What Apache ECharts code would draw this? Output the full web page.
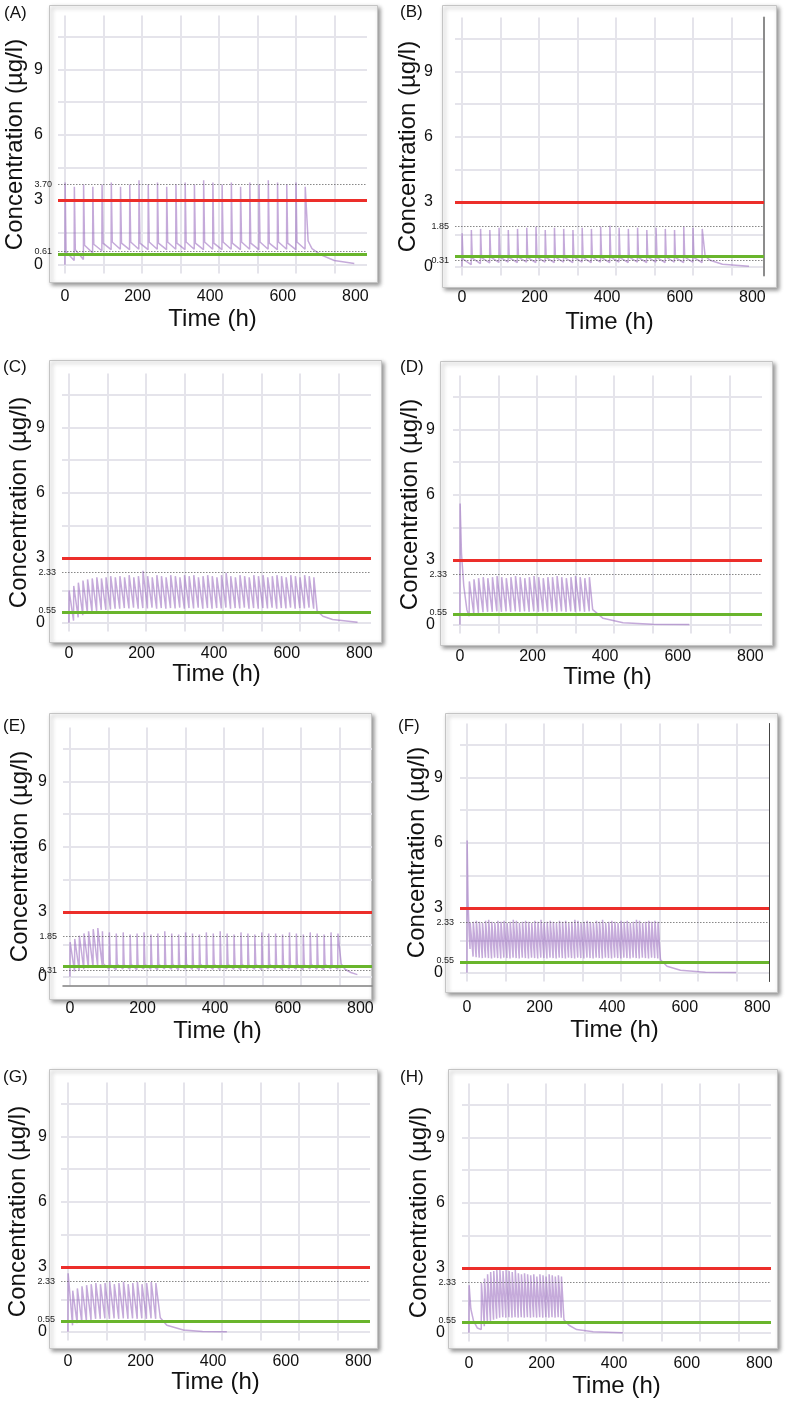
<!DOCTYPE html>
<html>
<head>
<meta charset="utf-8">
<title>Simulated concentration profiles (A)-(H)</title>
<script src="https://cdn.jsdelivr.net/npm/echarts@6/dist/echarts.min.js"></script>
<style>
  html, body { margin: 0; padding: 0; background: #fff; }
  #chart { width: 785px; height: 1404px; }
</style>
</head>
<body>
<div id="chart"></div>
<script>
// panel letters, left to right, top to bottom
var panels = ['(A)', '(B)', '(C)', '(D)', '(E)', '(F)', '(G)', '(H)'];

// axis ticks
var timeGrid = [0, 100, 200, 300, 400, 500, 600, 700];
var timeLabels = [0, 200, 400, 600, 800];
var concGrid = [0, 1.5, 3, 4.5, 6, 7.5, 9, 10.5];
var concLabels = [0, 3, 6, 9];

// reference lines (µg/l)
var toxicLevel = 3;
var minEffective = 0.5;
var upperMarks = [3.70, 1.85, 2.33, 2.33, 1.85, 2.33, 2.33, 2.33];
var lowerMarks = [0.61, 0.31, 0.55, 0.55, 0.31, 0.55, 0.55, 0.55];

// --- (A) 24 h dosing
var leadA = [[0, 0]];
var peaksA = [3.8, 3.6, 3.7, 3.6, 3.7, 3.8, 3.6, 3.7, 3.9, 3.7, 3.8, 3.6, 3.7, 3.8, 3.7, 3.9, 3.8, 3.7, 3.8, 3.6, 3.8, 3.7, 3.9, 3.8, 3.7, 3.8, 3.6];
var kneesA = [0.6, 0.7, 0.9, 0.95, 1.0, 1.05, 1.0, 1.05, 1.0, 1.05, 1.0, 1.05, 1.0, 1.05, 1.0, 1.05, 1.0, 1.05, 1.0, 1.05, 1.0, 1.05, 1.0, 1.05, 1.0, 1.05];
var troughsA = [0.2, 0.25, 0.55, 0.65, 0.7, 0.72, 0.7, 0.72, 0.7, 0.72, 0.7, 0.72, 0.7, 0.72, 0.7, 0.72, 0.7, 0.72, 0.7, 0.72, 0.7, 0.72, 0.7, 0.72, 0.7, 0.72];
var tailA = [[632, 1.1], [642, 0.75], [665, 0.46], [700, 0.2], [752, 0.06]];

// --- (B) 24 h dosing, lower dose
var leadB = [[0, 0]];
var peaksB = [1.55, 1.7, 1.75, 1.7, 1.8, 1.7, 1.75, 1.8, 1.85, 1.7, 1.8, 1.75, 1.7, 1.8, 1.75, 1.85, 1.9, 1.8, 1.75, 1.8, 1.7, 1.8, 1.75, 1.7, 1.85, 1.8, 1.75];
var kneesB = [0.35, 0.4, 0.42, 0.45, 0.45, 0.42, 0.45, 0.42, 0.45, 0.42, 0.45, 0.42, 0.45, 0.42, 0.45, 0.42, 0.45, 0.42, 0.45, 0.42, 0.45, 0.42, 0.45, 0.42, 0.45, 0.42];
var troughsB = [0.1, 0.15, 0.18, 0.2, 0.22, 0.2, 0.22, 0.2, 0.22, 0.2, 0.22, 0.2, 0.22, 0.2, 0.22, 0.2, 0.22, 0.2, 0.22, 0.2, 0.22, 0.2, 0.22, 0.2, 0.22, 0.2];
var tailB = [[632, 0.5], [645, 0.3], [677, 0.12], [746, 0.03]];

// --- (C) 12 h dosing
var leadC = [[0, 0]];
var peaksC = [1.5, 1.7, 1.85, 1.95, 2.0, 2.05, 2.1, 2.05, 2.1, 2.15, 2.1, 2.15, 2.1, 2.2, 2.1, 2.15, 2.4, 2.15, 2.1, 2.2, 2.15, 2.1, 2.2, 2.15, 2.1, 2.2, 2.15, 2.2, 2.1, 2.15, 2.2, 2.15, 2.1, 2.2, 2.3, 2.15, 2.1, 2.2, 2.15, 2.1, 2.2, 2.15, 2.2, 2.1, 2.15, 2.2, 2.15, 2.1, 2.2, 2.15, 2.1, 2.2, 2.15, 2.1];
var troughsC = [0.1, 0.25, 0.35, 0.45, 0.5, 0.55, 0.6, 0.6, 0.62, 0.65, 0.65, 0.68, 0.66, 0.7, 0.65, 0.68, 0.66, 0.7, 0.65, 0.68, 0.65, 0.68, 0.66, 0.7, 0.65, 0.68, 0.66, 0.7, 0.65, 0.68, 0.65, 0.68, 0.66, 0.7, 0.65, 0.68, 0.66, 0.7, 0.65, 0.68, 0.65, 0.68, 0.66, 0.7, 0.65, 0.68, 0.66, 0.7, 0.65, 0.68, 0.66, 0.7, 0.65];
var tailC = [[645, 0.55], [660, 0.3], [685, 0.15], [750, 0.03]];

// --- (D) loading dose, then 12 h dosing
var leadD = [[0, 0], [0.5, 5.6], [4, 3.3], [10, 1.8], [18, 0.7], [24, 0.4]];
var peaksD = [2.0, 2.1, 2.15, 2.2, 2.15, 2.2, 2.25, 2.2, 2.15, 2.2, 2.25, 2.2, 2.15, 2.2, 2.25, 2.2, 2.15, 2.2, 2.2, 2.25, 2.2, 2.15, 2.2, 2.25, 2.2, 2.15, 2.2];
var troughsD = [0.5, 0.55, 0.58, 0.6, 0.6, 0.62, 0.6, 0.62, 0.6, 0.62, 0.6, 0.62, 0.6, 0.62, 0.6, 0.62, 0.6, 0.62, 0.6, 0.62, 0.6, 0.62, 0.6, 0.62, 0.6, 0.62];
var tailD = [[345, 0.7], [372, 0.3], [424, 0.1], [500, 0.03], [596, 0.01]];

// --- (E) 12 h start, then 18 h dosing
var leadE = [[0, 0]];
var peaksE1 = [1.6, 1.75, 1.9, 2.0, 2.1, 2.2, 2.25];
var troughsE1 = [0.25, 0.3, 0.35, 0.4, 0.45, 0.5, 0.5];
var peaksE2 = [2.1, 2.05, 2.0, 2.05, 1.95, 2.0, 2.05, 1.95, 2.0, 2.1, 2.0, 1.95, 2.05, 2.0, 1.95, 2.05, 2.0, 2.1, 2.0, 1.95, 2.05, 2.0, 1.95, 2.05, 2.0, 2.0, 1.95, 2.05, 2.0, 1.95, 2.05, 2.0, 1.95, 2.05, 2.0];
var kneesE2 = [0.6, 0.55, 0.58, 0.55, 0.58, 0.55, 0.58, 0.55, 0.58, 0.55, 0.58, 0.55, 0.58, 0.55, 0.58, 0.55, 0.58, 0.55, 0.58, 0.55, 0.58, 0.55, 0.58, 0.55, 0.58, 0.55, 0.58, 0.55, 0.58, 0.55, 0.58, 0.55, 0.58, 0.55];
var troughsE2 = [0.35, 0.33, 0.37, 0.35, 0.33, 0.37, 0.35, 0.33, 0.37, 0.35, 0.33, 0.37, 0.35, 0.33, 0.37, 0.35, 0.33, 0.37, 0.35, 0.33, 0.37, 0.35, 0.33, 0.37, 0.35, 0.33, 0.37, 0.35, 0.33, 0.37, 0.35, 0.33, 0.37, 0.35];
var tailE = [[705, 0.6], [715, 0.35], [730, 0.2], [747, 0.1]];

// --- (F) loading dose, then 8 h dosing
var leadF = [[0, 0], [0.5, 6.1], [3, 3.3], [6, 1.7], [8, 1.1]];
var peaksF = [2.3, 2.35, 2.4, 2.35, 2.3, 2.4, 2.45, 2.35, 2.3, 2.4, 2.35, 2.4, 2.3, 2.35, 2.45, 2.4, 2.3, 2.35, 2.4, 2.35, 2.3, 2.4, 2.35, 2.45, 2.3, 2.35, 2.4, 2.35, 2.3, 2.4, 2.35, 2.4, 2.3, 2.35, 2.45, 2.4, 2.3, 2.35, 2.4, 2.35, 2.3, 2.4, 2.35, 2.45, 2.3, 2.35, 2.4, 2.35, 2.3, 2.4, 2.35, 2.4, 2.3, 2.35, 2.45, 2.4, 2.3, 2.35, 2.4, 2.35, 2.4, 2.35];
var troughsF = [0.75, 0.72, 0.7, 0.68, 0.7, 0.68, 0.66, 0.7, 0.68, 0.66, 0.7, 0.68, 0.66, 0.7, 0.68, 0.66, 0.7, 0.68, 0.66, 0.7, 0.68, 0.66, 0.7, 0.68, 0.66, 0.7, 0.68, 0.66, 0.7, 0.68, 0.66, 0.7, 0.68, 0.66, 0.7, 0.68, 0.66, 0.7, 0.68, 0.66, 0.7, 0.68, 0.66, 0.7, 0.68, 0.66, 0.7, 0.68, 0.66, 0.7, 0.68, 0.66, 0.7, 0.68, 0.66, 0.7, 0.68, 0.66, 0.7, 0.68, 0.66];
var tailF = [[503, 0.6], [520, 0.3], [555, 0.12], [620, 0.03], [700, 0.01]];

// --- (G) 12 h dosing, short course
var leadG = [[0, 0]];
var peaksG = [2.7, 1.9, 2.0, 2.1, 2.15, 2.2, 2.25, 2.2, 2.25, 2.3, 2.2, 2.25, 2.3, 2.2, 2.25, 2.3, 2.2, 2.25, 2.3, 2.25];
var troughsG = [0.3, 0.4, 0.45, 0.5, 0.55, 0.6, 0.6, 0.62, 0.6, 0.62, 0.6, 0.62, 0.6, 0.62, 0.6, 0.62, 0.6, 0.62, 0.6];
var tailG = [[240, 0.65], [257, 0.3], [300, 0.08], [350, 0.02], [413, 0.0]];

// --- (H) single dose, then 8 h dosing
var leadH = [[0, 0], [0.5, 2.2], [5, 1.1], [12, 0.55], [22, 0.22], [32, 0.15]];
var peaksH = [2.3, 2.5, 2.7, 2.8, 2.85, 2.9, 2.9, 2.85, 2.9, 2.85, 2.8, 2.9, 2.75, 2.7, 2.75, 2.7, 2.65, 2.7, 2.6, 2.7, 2.65, 2.6, 2.7, 2.65, 2.6, 2.65, 2.6];
var troughsH = [0.3, 0.45, 0.55, 0.6, 0.65, 0.7, 0.72, 0.7, 0.72, 0.7, 0.72, 0.7, 0.72, 0.7, 0.72, 0.7, 0.72, 0.7, 0.72, 0.7, 0.72, 0.7, 0.72, 0.7, 0.72, 0.7];
var tailH = [[247, 0.6], [260, 0.35], [280, 0.15], [323, 0.05], [400, 0.0]];

// layout of the eight panels (px)
var plotPos = [[58, 15.5], [455, 17.5], [62, 373.5], [453, 375.5], [63, 727.5], [460, 723.5], [61, 1082.5], [462, 1083.5]];
var plotW = 309, plotH = 258;
var frames = [[49, 5, 328, 277], [442, 5, 334, 282], [49, 360, 332, 282], [440, 361, 332, 284],
              [49, 713, 322, 286], [445, 713, 332, 279], [49, 1069, 328, 279], [448, 1069, 329, 279]];
var letterPos = [[4, 5], [400, 4], [3, 359], [400, 359], [3, 718], [398, 718], [3, 1069], [400, 1069]];
var timeNameGap = [34, 35, 30, 32, 34, 37, 28, 33];
var timeLabelMargin = [15, 14, 14, 15, 15, 18, 13, 14];
var concLabelMargin = [15, 22, 17, 18, 16, 17, 14, 17];
// the time labels were set on a slightly compressed scale vs the grid
var labelStretch = 1.06;
var tMin = -18, tMax = 785, cMin = -0.4, cMax = 11.5;

function phase(first, every, peaks, troughs, knees) {
  return { first: first, every: every, peaks: peaks, troughs: troughs, knees: knees };
}

// one dose: rise to the peak, optional early point, then trough before next dose
function profile(lead, phases, tail) {
  var pts = lead.slice();
  phases.forEach(function (ph) {
    ph.peaks.forEach(function (p, i) {
      var t = ph.first + i * ph.every;
      pts.push([t + 0.5, p]);
      if (ph.knees && ph.knees[i] != null) pts.push([t + 3, ph.knees[i]]);
      if (ph.troughs[i] != null) pts.push([t + ph.every, ph.troughs[i]]);
    });
  });
  return pts.concat(tail);
}

var profiles = [
  profile(leadA, [phase(0, 24, peaksA, troughsA, kneesA)], tailA),
  profile(leadB, [phase(0, 24, peaksB, troughsB, kneesB)], tailB),
  profile(leadC, [phase(0, 12, peaksC, troughsC)], tailC),
  profile(leadD, [phase(24, 12, peaksD, troughsD)], tailD),
  profile(leadE, [phase(0, 12, peaksE1, troughsE1), phase(84, 18, peaksE2, troughsE2, kneesE2)], tailE),
  profile(leadF, [phase(8, 8, peaksF, troughsF)], tailF),
  profile(leadG, [phase(0, 12, peaksG, troughsG)], tailG),
  profile(leadH, [phase(32, 8, peaksH, troughsH)], tailH)
];

var font = 'Liberation Sans, Arial, Helvetica, sans-serif';
var gridColor = '#e5e4eb';

var grids = [], xAxes = [], yAxes = [], series = [], elements = [];

panels.forEach(function (letter, i) {
  grids.push({ left: plotPos[i][0], top: plotPos[i][1], width: plotW, height: plotH, show: false });

  // time axis the curves live on (draws the vertical grid)
  var xi = xAxes.length;
  xAxes.push({
    gridIndex: i, type: 'value', position: 'bottom', min: tMin, max: tMax,
    axisLine: { show: false, onZero: false },
    axisTick: { show: false, customValues: timeGrid },
    axisLabel: { show: false },
    splitLine: { show: true, lineStyle: { color: gridColor, width: 2 } }
  });
  // axis carrying the printed time labels
  xAxes.push({
    gridIndex: i, type: 'value', position: 'bottom',
    min: tMin * labelStretch, max: tMax * labelStretch,
    axisLine: { show: i === 4, onZero: false, lineStyle: { color: '#808080', width: 1.5 } },
    axisTick: { show: false },
    axisLabel: { customValues: timeLabels, margin: timeLabelMargin[i], fontSize: 16, color: '#111', fontFamily: font },
    splitLine: { show: false },
    name: 'Time (h)', nameLocation: 'middle', nameGap: timeNameGap[i],
    nameTextStyle: { fontSize: 24, color: '#111', fontFamily: font }
  });

  var yi = yAxes.length;
  yAxes.push({
    gridIndex: i, type: 'value', min: cMin, max: cMax,
    axisLine: { show: false, onZero: false },
    axisTick: { show: false, customValues: concGrid },
    axisLabel: { customValues: concLabels, margin: concLabelMargin[i], fontSize: 16, color: '#111', fontFamily: font },
    splitLine: { show: true, lineStyle: { color: gridColor, width: 2 } },
    name: 'Concentration (µg/l)', nameLocation: 'middle', nameGap: 31, nameRotate: 90,
    nameTextStyle: { fontSize: 24, color: '#111', fontFamily: font }
  });
  // dark right border seen in (B) and (F)
  if (i === 1 || i === 5) {
    yAxes.push({
      gridIndex: i, type: 'value', position: 'right', min: cMin, max: cMax,
      axisLine: { show: true, onZero: false, lineStyle: { color: i === 1 ? '#8c8c8c' : '#444', width: i === 1 ? 2 : 1 } },
      axisTick: { show: false }, axisLabel: { show: false }, splitLine: { show: false }
    });
  }

  var dotted = function (v) {
    return {
      yAxis: v,
      lineStyle: { color: '#555', width: 0.7, type: [1.5, 1.5] },
      label: { show: true, position: 'start', distance: 6, formatter: v.toFixed(2), fontSize: 9, color: '#222', fontFamily: font }
    };
  };

  series.push({
    type: 'line', xAxisIndex: xi, yAxisIndex: yi,
    data: profiles[i], showSymbol: false, symbol: 'none',
    lineStyle: { color: 'rgba(150, 100, 188, 0.55)', width: 1.5 },
    markLine: {
      silent: true, symbol: ['none', 'none'],
      data: [
        dotted(upperMarks[i]),
        dotted(lowerMarks[i]),
        { yAxis: toxicLevel, lineStyle: { color: '#ec2e2a', width: 3, type: 'solid' }, label: { show: false } },
        { yAxis: minEffective, lineStyle: { color: '#69b52c', width: 3, type: 'solid' }, label: { show: false } }
      ]
    }
  });

  var f = frames[i];
  elements.push({
    type: 'rect', z: -10, left: f[0], top: f[1],
    shape: { width: f[2], height: f[3] },
    style: { fill: '#fff', stroke: '#c4c4c4', lineWidth: 1, shadowBlur: 4, shadowOffsetX: 2, shadowOffsetY: 2, shadowColor: 'rgba(0,0,0,0.4)' }
  });
  elements.push({
    type: 'text', z: 10, left: letterPos[i][0], top: letterPos[i][1],
    style: { text: letter, fontSize: 17, fill: '#111', fontFamily: font }
  });
});

var chart = echarts.init(document.getElementById('chart'));
chart.setOption({
  animation: false,
  backgroundColor: '#fff',
  textStyle: { fontFamily: font },
  graphic: { elements: elements },
  grid: grids,
  xAxis: xAxes,
  yAxis: yAxes,
  series: series
});
</script>
</body>
</html>
